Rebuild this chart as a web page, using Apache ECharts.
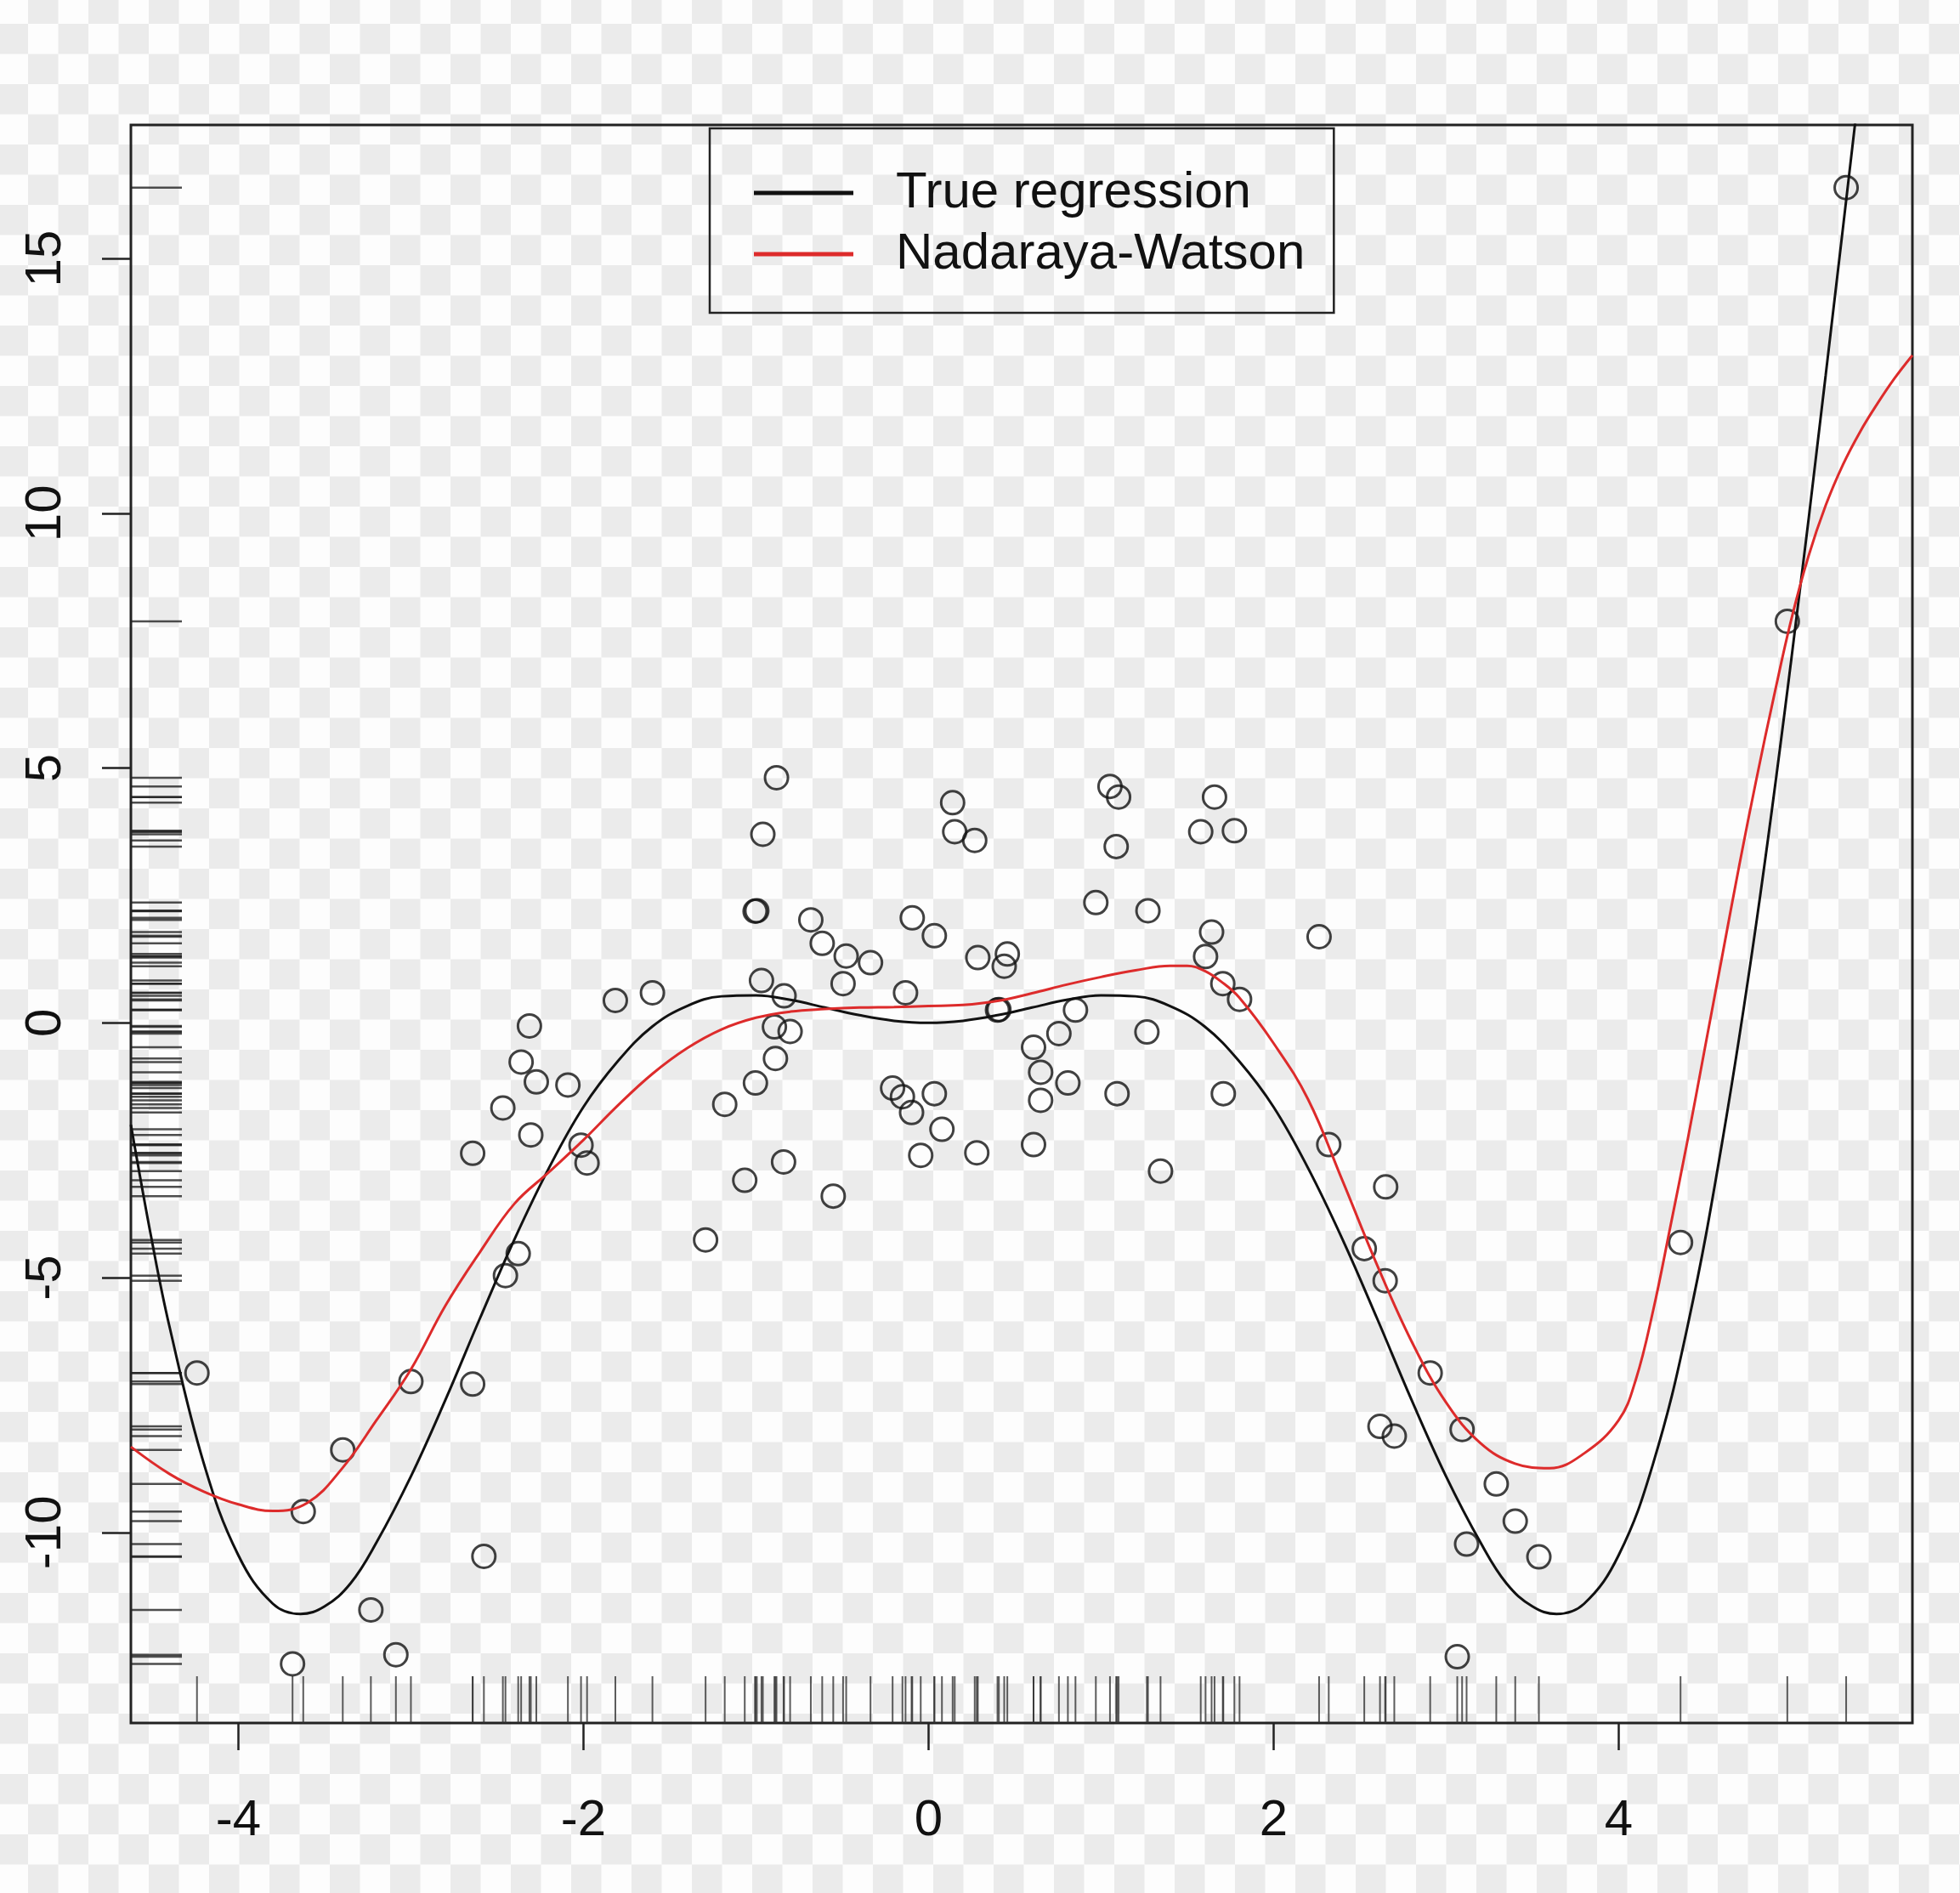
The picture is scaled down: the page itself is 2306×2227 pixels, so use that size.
<!DOCTYPE html>
<html>
<head>
<meta charset="utf-8">
<script src="https://cdn.jsdelivr.net/npm/echarts@6/dist/echarts.min.js"></script>
<style>
html,body{margin:0;padding:0;background:#fdfdfd;}
#chart{width:2306px;height:2227px;}
</style>
</head>
<body>
<div id="chart"></div>
<script>
// ---- observed data (x, y) ----
const xObs = [-4.240,-3.686,-3.624,-3.395,-3.232,-3.087,-3.000,-2.642,-2.642,-2.577,
  -2.467,-2.452,-2.378,-2.361,-2.313,-2.305,-2.273,-2.090,-2.014,-1.979,
  -1.815,-1.600,-1.292,-1.181,-1.065,-1.005,-0.995,-0.960,-1.003,-0.968,
  -0.881,-0.887,-0.893,-0.837,-0.840,-0.802,-0.682,-0.616,-0.552,-0.495,
  -0.477,-0.336,-0.208,-0.151,-0.098,-0.133,-0.094,-0.045,0.034,0.034,
  0.078,0.140,0.152,0.268,0.280,0.286,0.400,0.408,0.439,0.457,
  0.609,0.609,0.650,0.650,0.756,0.808,0.852,0.970,1.052,1.102,
  1.088,1.093,1.272,1.266,1.345,1.578,1.606,1.641,1.658,1.706,
  1.709,1.773,1.803,2.264,2.320,2.526,2.647,2.650,2.617,2.700,
  2.908,3.093,3.065,3.119,3.291,3.401,3.538,4.359,4.978,5.319];
const yObs = [-6.87,-12.58,-9.59,-8.38,-11.52,-12.40,-7.04,-7.09,-2.56,-10.47,
  -1.67,-4.96,-4.53,-0.77,-0.06,-2.20,-1.16,-1.22,-2.40,-2.75,
  0.44,0.59,-4.26,-1.60,-3.09,2.19,2.20,3.70,-1.18,0.83,
  4.81,-0.70,-0.08,0.53,-2.73,-0.17,2.02,1.56,-3.40,0.77,
  1.31,1.18,-1.28,-1.45,-1.76,0.59,2.06,-2.60,-1.39,1.71,
  -2.09,4.32,3.75,3.58,-2.55,1.28,0.25,0.26,1.11,1.35,
  -0.48,-2.39,-1.52,-0.97,-0.21,-1.18,0.25,2.36,4.64,4.43,
  3.46,-1.39,2.20,-0.18,-2.91,3.75,1.30,1.78,4.43,0.77,
  -1.39,3.77,0.46,1.69,-2.39,-4.43,-5.06,-3.22,-7.92,-8.11,
  -6.87,-7.98,-12.44,-10.23,-9.05,-9.78,-10.48,-4.31,7.88,16.39];

// ---- true regression curve ----
const trueX = [-4.623,-4.5,-4.4,-4.2,-4.0,-3.8,-3.64,-3.5,-3.35,-3.2,-3.0,-2.8,-2.6,-2.4,-2.2,-2.0,-1.8,-1.6,-1.4,-1.2,-1.0,
  -0.8,-0.6,-0.4,-0.2,0,0.2,0.4,0.6,0.8,1.0,1.2,1.4,1.6,1.8,2.0,2.2,2.4,2.6,2.8,3.0,3.2,3.35,3.5,3.64,3.8,4.0,4.2,4.4,4.6,4.8,5.0,5.2,5.4,5.6];
const trueY = [-2.0,-4.3,-5.95,-8.65,-10.45,-11.4,-11.6,-11.45,-11.0,-10.2,-8.9,-7.4,-5.8,-4.25,-2.85,-1.65,-0.75,-0.07,0.33,0.52,0.54,
  0.45,0.30,0.15,0.04,0,0.04,0.15,0.30,0.45,0.54,0.52,0.33,-0.07,-0.75,-1.65,-2.85,-4.25,-5.8,-7.4,-8.9,-10.2,-11.0,-11.45,-11.6,-11.4,-10.45,-8.65,-5.95,-2.35,2.0,7.1,12.7,18.5,24.3];

// ---- Nadaraya-Watson estimate ----
const nwX = [-4.623,-4.4,-4.2,-4.0,-3.8,-3.6,-3.4,-3.2,-3.0,-2.8,-2.6,-2.4,-2.2,-2.0,-1.8,-1.6,-1.4,-1.2,-1.0,-0.8,-0.6,-0.4,-0.2,0,
  0.2,0.4,0.6,0.8,1.0,1.2,1.4,1.5,1.6,1.7,1.8,2.0,2.2,2.4,2.6,2.8,3.0,3.2,3.4,3.6,3.8,4.0,4.1,4.2,4.3,4.4,4.5,4.6,4.7,4.8,4.9,5.0,
  5.1,5.2,5.3,5.4,5.5,5.6,5.703];
const nwY = [-8.32,-8.85,-9.2,-9.45,-9.58,-9.42,-8.75,-7.8,-6.8,-5.55,-4.5,-3.55,-2.93,-2.3,-1.62,-1.0,-0.5,-0.13,0.1,0.22,0.27,0.3,0.31,0.33,
  0.35,0.43,0.58,0.75,0.9,1.03,1.12,1.12,1.02,0.8,0.5,-0.4,-1.5,-3.1,-4.75,-6.25,-7.45,-8.25,-8.65,-8.74,-8.45,-7.8,-7.0,-5.65,-4.0,-2.3,
  -0.5,1.3,3.1,4.8,6.4,7.9,9.15,10.15,10.95,11.6,12.15,12.65,13.1];

const xTicks = [-4,-2,0,2,4];
const yTicks = [-10,-5,0,5,10,15];
const seriesNames = ['True regression','Nadaraya-Watson'];

const X_MIN = -4.623, X_MAX = 5.703, Y_MIN = -13.74, Y_MAX = 17.62;
const FONT = "'Liberation Sans', Arial, sans-serif";

// checkerboard background
function checker(){
  const s = 35.5, c = document.createElement('canvas');
  c.width = 71; c.height = 71;
  const g = c.getContext('2d');
  g.fillStyle = '#fdfdfd'; g.fillRect(0,0,71,71);
  g.fillStyle = '#ebebeb';
  const ox = -2.5, oy = -7.5;
  for (let i=-1;i<3;i++) for (let j=-1;j<3;j++){
    if (((i+j)%2+2)%2===1) g.fillRect(ox+i*s, oy+j*s, s, s);
  }
  return c;
}

const zip = (a,b) => a.map((v,i)=>[v,b[i]]);

const chart = echarts.init(document.getElementById('chart'), null, {renderer:'canvas'});
chart.setOption({
  animation:false,
  backgroundColor:{image:checker(), repeat:'repeat'},
  textStyle:{fontFamily:FONT},
  grid:{left:154, right:56, top:147, bottom:200, show:true, borderColor:'#222', borderWidth:3, backgroundColor:'transparent'},
  xAxis:{type:'value', min:X_MIN, max:X_MAX, position:'bottom',
    splitLine:{show:false},
    axisLine:{show:false, onZero:false},
    axisTick:{show:true, customValues:xTicks, length:32, inside:false, lineStyle:{color:'#222', width:2.5}},
    axisLabel:{show:true, customValues:xTicks, fontSize:60, color:'#111', margin:85, fontFamily:FONT,
      formatter:v=>String(v)}
  },
  yAxis:{type:'value', min:Y_MIN, max:Y_MAX, position:'left',
    splitLine:{show:false},
    axisLine:{show:false, onZero:false},
    axisTick:{show:true, customValues:yTicks, length:34, inside:false, lineStyle:{color:'#222', width:2.5}},
    axisLabel:{show:true, customValues:yTicks, fontSize:60, color:'#111', margin:70, rotate:90, fontFamily:FONT,
      formatter:v=>String(v)}
  },
  legend:{
    data:[{name:seriesNames[0], icon:'rect'},{name:seriesNames[1], icon:'rect'}],
    orient:'vertical', left:835, top:151,
    backgroundColor:'transparent', borderColor:'#222', borderWidth:2.5,
    padding:[46,34,39,52], itemWidth:117, itemHeight:5, itemGap:12,
    selectedMode:false,
    textStyle:{fontSize:60, color:'#111', fontFamily:FONT, padding:[0,0,0,45]}
  },
  series:[
    {name:'obs', type:'scatter', data:zip(xObs,yObs), symbol:'circle', symbolSize:27,
      itemStyle:{color:'rgba(0,0,0,0)', borderColor:'#111', borderWidth:3}, z:2},
    {name:'rugX', type:'scatter', data:xObs.map(x=>[x,Y_MIN]), symbol:'rect', symbolSize:[2,55], symbolOffset:[0,-27.5],
      itemStyle:{color:'#333'}, clip:false, silent:true, z:1},
    {name:'rugY', type:'scatter', data:yObs.map(y=>[X_MIN,y]), symbol:'rect', symbolSize:[60,2.5], symbolOffset:[30,0],
      itemStyle:{color:'#222'}, clip:false, silent:true, z:1},
    {name:seriesNames[0], type:'line', data:zip(trueX,trueY), showSymbol:false, smooth:0.4, clip:true,
      lineStyle:{color:'#111', width:3}, itemStyle:{color:'#111'}, z:3},
    {name:seriesNames[1], type:'line', data:zip(nwX,nwY), showSymbol:false, smooth:0.4, clip:true,
      lineStyle:{color:'#dd2b2b', width:3}, itemStyle:{color:'#dd2b2b'}, z:4}
  ]
});
</script>
</body>
</html>
